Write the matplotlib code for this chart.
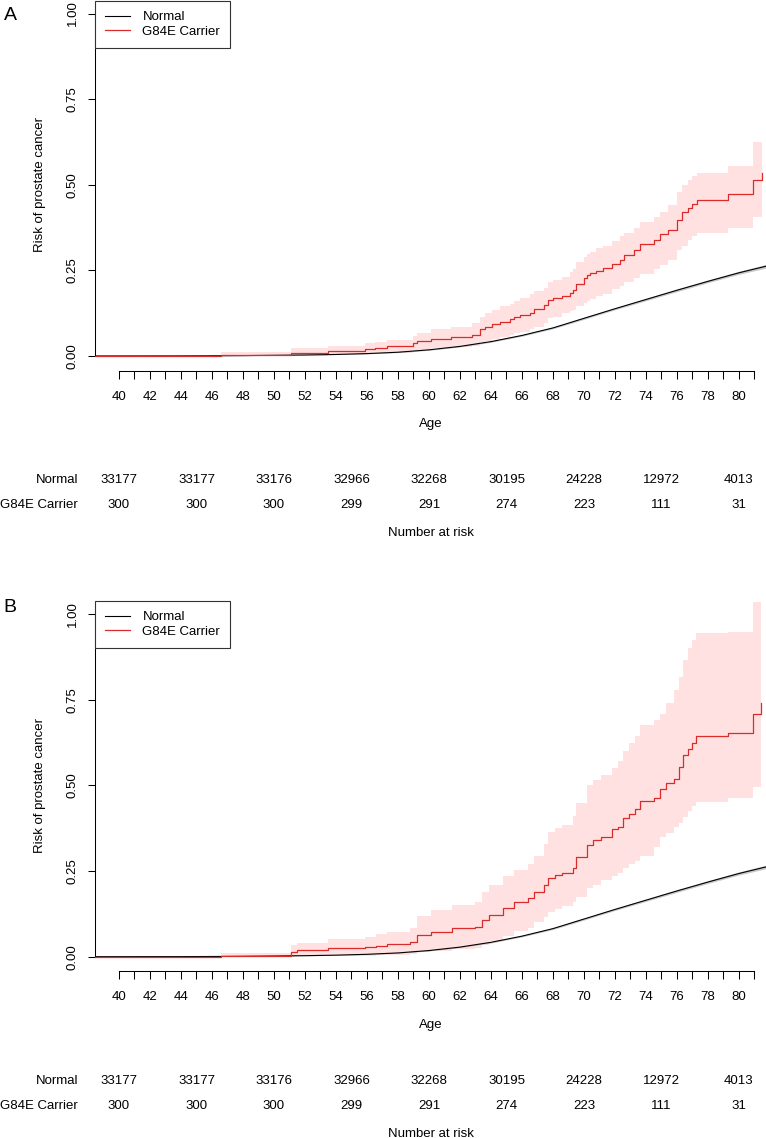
import matplotlib
matplotlib.use('Agg')
import matplotlib.pyplot as plt
from matplotlib import transforms

plt.rcParams['font.family'] = ['Liberation Sans', 'DejaVu Sans']

# ---------------- data ----------------
normal_age = [35, 44, 46, 48, 50, 52, 54, 56, 58, 60, 62, 64, 66, 68, 70, 72, 74, 76, 78, 80, 82]
normal_risk = [0, 0.0003, 0.0006, 0.0012, 0.002, 0.003, 0.0045, 0.007, 0.011, 0.018, 0.028,
               0.042, 0.06, 0.082, 0.11, 0.138, 0.165, 0.192, 0.218, 0.243, 0.265]
normal_lo = [0, 0.0002, 0.0005, 0.001, 0.0017, 0.0026, 0.004, 0.0063, 0.010, 0.0167, 0.0265,
             0.040, 0.0578, 0.0795, 0.107, 0.135, 0.1615, 0.188, 0.214, 0.2385, 0.2595]
normal_hi = [0, 0.0004, 0.0007, 0.0014, 0.0023, 0.0034, 0.005, 0.0077, 0.012, 0.0193, 0.0295,
             0.044, 0.0622, 0.0845, 0.113, 0.141, 0.1685, 0.196, 0.222, 0.2475, 0.2705]

# Panel A : carrier step estimate with confidence limits
carA_age = [35, 46.6, 51.1, 53.5, 55.9, 56.5, 57.3, 59.0, 59.2, 60.1, 61.4, 62.8, 63.3, 63.6,
            64.05, 64.6, 65.2, 65.5, 65.9, 66.5, 66.8, 67.4, 67.7, 68.0, 68.6, 69.1, 69.3,
            69.5, 70.0, 70.2, 70.4, 70.8, 71.2, 71.8, 72.3, 72.6, 73.2, 73.6, 74.5, 74.9,
            75.4, 76.0, 76.3, 76.7, 77.0, 77.3, 79.3, 80.9, 81.5]
carA_risk = [0, 0.0033, 0.01, 0.0146, 0.0195, 0.024, 0.028, 0.039, 0.045, 0.051, 0.056, 0.062,
             0.078, 0.086, 0.093, 0.100, 0.107, 0.115, 0.12, 0.125, 0.136, 0.149, 0.164, 0.168,
             0.175, 0.183, 0.193, 0.21, 0.227, 0.237, 0.243, 0.249, 0.256, 0.269, 0.28, 0.295,
             0.31, 0.327, 0.339, 0.356, 0.368, 0.397, 0.42, 0.433, 0.444, 0.456, 0.473, 0.514,
             0.534]
carA_lo = [0, 0, 0.001, 0.003, 0.005, 0.007, 0.009, 0.014, 0.018, 0.022, 0.026, 0.03, 0.04,
           0.045, 0.05, 0.055, 0.06, 0.066, 0.07, 0.078, 0.085, 0.095, 0.11, 0.115, 0.125,
           0.13, 0.135, 0.145, 0.155, 0.16, 0.165, 0.175, 0.182, 0.195, 0.205, 0.215, 0.228,
           0.24, 0.255, 0.265, 0.28, 0.31, 0.32, 0.34, 0.35, 0.36, 0.374, 0.407, 0.42]
carA_hi = [0, 0.012, 0.022, 0.03, 0.037, 0.042, 0.048, 0.058, 0.066, 0.078, 0.085, 0.095,
           0.115, 0.125, 0.135, 0.145, 0.152, 0.16, 0.168, 0.18, 0.19, 0.2, 0.215, 0.222,
           0.232, 0.245, 0.255, 0.275, 0.29, 0.298, 0.305, 0.315, 0.322, 0.335, 0.35, 0.36,
           0.375, 0.39, 0.405, 0.42, 0.44, 0.48, 0.5, 0.515, 0.525, 0.535, 0.555, 0.626, 0.64]

# Panel B : carrier step estimate with confidence limits
carB_age = [35, 46.6, 51.1, 51.5, 53.5, 55.9, 56.6, 57.3, 58.8, 59.2, 60.1, 61.5, 63.0, 63.4,
            63.9, 64.8, 65.5, 66.4, 66.8, 67.4, 67.7, 68.1, 68.6, 69.3, 69.5, 70.2, 70.6, 71.1,
            71.8, 72.2, 72.5, 72.9, 73.3, 73.6, 74.5, 74.9, 75.3, 75.8, 76.1, 76.4, 76.7, 77.0,
            77.2, 79.3, 80.9, 81.4]
carB_risk = [0, 0.003, 0.0146, 0.02, 0.024, 0.027, 0.032, 0.037, 0.044, 0.063, 0.073, 0.083,
             0.088, 0.107, 0.122, 0.141, 0.16, 0.17, 0.188, 0.209, 0.229, 0.238, 0.245, 0.258,
             0.29, 0.326, 0.34, 0.35, 0.372, 0.38, 0.404, 0.418, 0.43, 0.455, 0.462, 0.491,
             0.506, 0.52, 0.554, 0.59, 0.605, 0.624, 0.645, 0.654, 0.71, 0.742]
carB_lo = [0, 0, 0, 0.001, 0.002, 0.003, 0.005, 0.006, 0.008, 0.013, 0.017, 0.022, 0.026,
           0.035, 0.045, 0.06, 0.075, 0.085, 0.1, 0.115, 0.13, 0.14, 0.148, 0.16, 0.175, 0.2,
           0.21, 0.225, 0.235, 0.245, 0.26, 0.272, 0.28, 0.295, 0.32, 0.35, 0.36, 0.38, 0.39,
           0.408, 0.425, 0.44, 0.452, 0.462, 0.496, 0.51]
carB_hi = [0, 0.012, 0.035, 0.041, 0.051, 0.057, 0.065, 0.072, 0.083, 0.119, 0.136, 0.151,
           0.16, 0.19, 0.21, 0.235, 0.253, 0.27, 0.295, 0.33, 0.365, 0.375, 0.384, 0.41, 0.448,
           0.5, 0.515, 0.53, 0.55, 0.57, 0.6, 0.623, 0.645, 0.676, 0.69, 0.71, 0.74, 0.78,
           0.817, 0.866, 0.9, 0.925, 0.944, 0.948, 1.036, 1.05]

risk_ages = [40, 45, 50, 55, 60, 65, 70, 75, 80]
risk_normal = [33177, 33177, 33176, 32966, 32268, 30195, 24228, 12972, 4013]
risk_carrier = [300, 300, 300, 299, 291, 274, 223, 111, 31]
group_names = ['Normal', 'G84E Carrier']
y_ticks = [0, 0.25, 0.5, 0.75, 1.0]
y_ticklabels = ['0.00', '0.25', '0.50', '0.75', '1.00']
x_ticks = list(range(40, 82))
x_ticklabels = [str(a) if a % 2 == 0 else '' for a in x_ticks]

# ---------------- layout ----------------
W, H = 766, 1138
fig = plt.figure(figsize=(W / 100, H / 100), dpi=100)
FS = 9.5
RED = '#dc2b2b'
BAND = '#ffe1e1'
PXU = 342.5          # pixels per unit risk
X_LEFT_PX, X_RIGHT_PX = 95, 766
AGE40_PX, PX_PER_YEAR = 119, 15.5


def fx(px):
    return px / W


def fy(py):
    return 1 - py / H


def panel(zero_px, top_px, letter, letter_y, t, est, lo, hi, leg_top):
    bottom_px = zero_px + 6
    ax = fig.add_axes([fx(X_LEFT_PX), fy(bottom_px), (X_RIGHT_PX - X_LEFT_PX) / W,
                       (bottom_px - top_px) / H])
    ax.set_xlim(40 + (X_LEFT_PX - AGE40_PX) / PX_PER_YEAR, 40 + (X_RIGHT_PX - AGE40_PX) / PX_PER_YEAR)
    ax.set_ylim(-6 / PXU, (zero_px - top_px) / PXU)

    ax.fill_between(t, lo, hi, step='post', color=BAND, lw=0, zorder=1)
    ax.fill_between(normal_age, normal_lo, normal_hi, color='#c8c8c8', lw=0, zorder=2)
    ax.plot(normal_age, normal_risk, color='black', lw=0.8, zorder=3, label=group_names[0])
    ax.step(t, est, where='post', color=RED, lw=0.9, zorder=4, label=group_names[1])

    for s in ['top', 'right']:
        ax.spines[s].set_visible(False)
    ax.spines['left'].set_bounds(0, 1)
    ax.spines['bottom'].set_bounds(40, 81)
    ax.spines['bottom'].set_position(('outward', 6.3))
    for s in ['left', 'bottom']:
        ax.spines[s].set_linewidth(0.75)
    ax.set_yticks(y_ticks)
    ax.set_yticklabels(y_ticklabels, rotation=90, va='center')
    ax.set_xticks(x_ticks)
    ax.set_xticklabels(x_ticklabels)
    ax.tick_params(axis='both', direction='out', length=5.4, width=0.75, labelsize=FS)
    ax.tick_params(axis='y', pad=6.5)
    ax.tick_params(axis='x', pad=9)

    leg = ax.legend(loc='upper left', bbox_to_anchor=(fx(X_LEFT_PX), fy(leg_top + 1)),
                    bbox_transform=fig.transFigure, borderaxespad=0, fancybox=False,
                    framealpha=1, edgecolor='#333333', fontsize=FS, borderpad=0.75,
                    handlelength=1.9, handletextpad=0.95, labelspacing=0.2)
    leg.get_frame().set_linewidth(0.8)

    fig.text(fx(10), fy(letter_y), letter, fontsize=14, ha='center', va='center')
    fig.text(fx(40), fy((zero_px + zero_px - PXU) / 2), 'Risk of prostate cancer', rotation=90,
             fontsize=FS, ha='center', va='center')
    fig.text(fx((X_LEFT_PX + X_RIGHT_PX) / 2), fy(zero_px + 68), 'Age', fontsize=FS,
             ha='center', va='center')

    tr = transforms.blended_transform_factory(ax.transData, fig.transFigure)
    row1, row2 = zero_px + 124, zero_px + 149
    fig.text(fx(78), fy(row1), group_names[0], fontsize=FS, ha='right', va='center')
    fig.text(fx(78), fy(row2), group_names[1], fontsize=FS, ha='right', va='center')
    for a, n1, n2 in zip(risk_ages, risk_normal, risk_carrier):
        ax.text(a, fy(row1), str(n1), transform=tr, fontsize=FS, ha='center', va='center',
                clip_on=False)
        ax.text(a, fy(row2), str(n2), transform=tr, fontsize=FS, ha='center', va='center',
                clip_on=False)
    fig.text(fx((X_LEFT_PX + X_RIGHT_PX) / 2), fy(zero_px + 177), 'Number at risk',
             fontsize=FS, ha='center', va='center')
    return ax


panel(356, 0, 'A', 15, carA_age, carA_risk, carA_lo, carA_hi, 0)
panel(956.7, 590, 'B', 608, carB_age, carB_risk, carB_lo, carB_hi, 600)

fig.savefig('out.png', dpi=100)
